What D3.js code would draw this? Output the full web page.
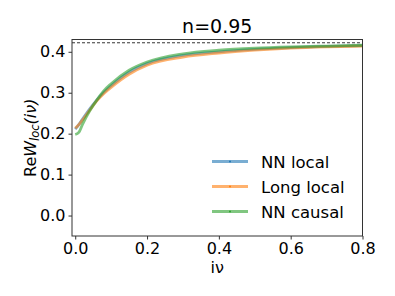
<!DOCTYPE html>
<html>
<head>
<meta charset="utf-8">
<script src="https://cdn.jsdelivr.net/npm/d3@7"></script>
<style>
  body { margin: 0; background: #fff; }
  text { font-family: "DejaVu Sans", sans-serif; }
</style>
</head>
<body>
<div class="chart"></div>
<script>
// Data
var nuValues = [0, 0.01, 0.02, 0.04, 0.06, 0.08, 0.1, 0.15, 0.2, 0.3, 0.4, 0.5, 0.6, 0.7, 0.8];
var nnLocal = [0.211, 0.222, 0.235, 0.260, 0.282, 0.301, 0.317, 0.350, 0.371, 0.391, 0.400, 0.406, 0.410, 0.413, 0.415];
var longLocal = [0.213, 0.222, 0.233, 0.257, 0.280, 0.298, 0.313, 0.345, 0.367, 0.387, 0.397, 0.404, 0.409, 0.412, 0.414];
var nnCausal = [0.198, 0.203, 0.222, 0.255, 0.282, 0.305, 0.322, 0.355, 0.375, 0.395, 0.404, 0.409, 0.412, 0.414, 0.416];
var seriesNames = ["NN local", "Long local", "NN causal"];
var seriesColors = ["#1f77b4", "#ff7f0e", "#2ca02c"];
var xTicks = [0, 0.2, 0.4, 0.6, 0.8];
var yTicks = [0, 0.1, 0.2, 0.3, 0.4];
var limitValue = 0.422;

var svgWidth = 395;
var svgHeight = 296;
var margin = {top: 39.5, right: 32.5, bottom: 60, left: 72};
var width = svgWidth - margin.left - margin.right;
var height = svgHeight - margin.top - margin.bottom;

var svg = d3.select(".chart")
  .append("svg")
  .attr("width", svgWidth)
  .attr("height", svgHeight);

var chart = svg.append("g")
  .attr("transform", "translate(" + margin.left + "," + margin.top + ")");

var x = d3.scaleLinear().domain([-0.009, 0.8]).range([0, width]);
var y = d3.scaleLinear().domain([-0.05, 0.43]).range([height, 0]);

// dashed limit line
chart.append("line")
  .attr("x1", 0).attr("x2", width)
  .attr("y1", y(limitValue)).attr("y2", y(limitValue))
  .attr("stroke", "#000")
  .attr("stroke-width", 0.8)
  .attr("stroke-dasharray", "3,2");

var line = d3.line()
  .x(function(d) { return x(d[0]); })
  .y(function(d) { return y(d[1]); })
  .curve(d3.curveMonotoneX);

[nnLocal, longLocal, nnCausal].forEach(function(vals, i) {
  var pts = nuValues.map(function(v, j) { return [v, vals[j]]; });
  chart.append("path")
    .datum(pts)
    .attr("fill", "none")
    .attr("stroke", seriesColors[i])
    .attr("stroke-width", 2.8)
    .attr("stroke-opacity", 0.6)
    .attr("d", line);
});

// axes
var bottomAxis = d3.axisBottom(x).tickValues(xTicks).tickFormat(d3.format(".1f")).tickSizeOuter(0).tickSize(3.5).tickPadding(3);
var leftAxis = d3.axisLeft(y).tickValues(yTicks).tickFormat(d3.format(".1f")).tickSizeOuter(0).tickSize(3.5).tickPadding(3);

var gx = chart.append("g").attr("transform", "translate(0," + height + ")").call(bottomAxis);
var gy = chart.append("g").call(leftAxis);
[gx, gy].forEach(function(g) {
  g.select(".domain").remove();
  g.selectAll("line").attr("stroke", "#333");
  g.selectAll("text").style("font-size", "16px").attr("fill", "#000")
    .style("font-family", "DejaVu Sans, sans-serif");
});

// frame
chart.append("rect")
  .attr("width", width).attr("height", height)
  .attr("fill", "none")
  .attr("stroke", "#333")
  .attr("stroke-width", 1);

// title
svg.append("text")
  .attr("x", margin.left + width / 2)
  .attr("y", 33)
  .attr("text-anchor", "middle")
  .style("font-size", "19px")
  .text("n=0.95");

// x label
svg.append("text")
  .attr("x", margin.left + width / 2)
  .attr("y", 273)
  .attr("text-anchor", "middle")
  .style("font-size", "16px")
  .text("iν");

// y label
var yl = svg.append("text")
  .attr("transform", "translate(36," + (margin.top + height / 2) + ") rotate(-90)")
  .attr("text-anchor", "middle")
  .style("font-size", "16px");
yl.append("tspan").text("Re");
yl.append("tspan").style("font-style", "italic").text("W");
yl.append("tspan").style("font-style", "italic").style("font-size", "11.5px").attr("dy", 3).text("loc");
yl.append("tspan").style("font-style", "italic").attr("dy", -3).text("(iν)");

// legend
var legend = svg.append("g");
seriesNames.forEach(function(name, i) {
  var ly = 161.5 + i * 25;
  legend.append("line")
    .attr("x1", 212).attr("x2", 248)
    .attr("y1", ly).attr("y2", ly)
    .attr("stroke", seriesColors[i])
    .attr("stroke-width", 2.8)
    .attr("stroke-opacity", 0.6);
  legend.append("circle")
    .attr("cx", 230).attr("cy", ly).attr("r", 1)
    .attr("fill", seriesColors[i]);
  legend.append("text")
    .attr("x", 261).attr("y", ly + 6)
    .style("font-size", "16.5px")
    .text(name);
});
</script>
</body>
</html>
